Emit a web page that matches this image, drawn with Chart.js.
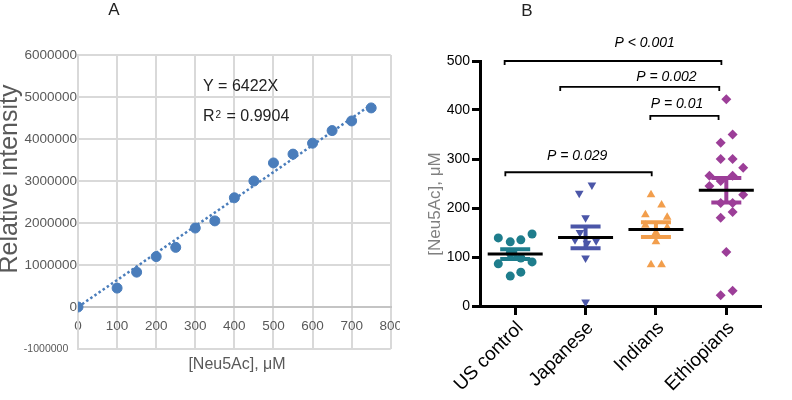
<!DOCTYPE html>
<html>
<head>
<meta charset="utf-8">
<script src="https://cdn.jsdelivr.net/npm/chart.js@4"></script>
<style>
  html, body { margin: 0; padding: 0; background: #fff; overflow: hidden; }
  #boxA { position: absolute; left: 0; top: 0; width: 400px; height: 400px; overflow: hidden; }
  #chartB { position: absolute; left: 420px; top: 0; }
</style>
</head>
<body>
<div id="boxA"><canvas id="chartA" width="413" height="400"></canvas></div>
<canvas id="chartB" width="372" height="430"></canvas>
<script>
  // --- panel A: calibration curve ---
  const concX = [0, 100, 150, 200, 250, 300, 350, 400, 450, 500, 550, 600, 650, 700, 750];
  const intensityY = [0, 450000, 830000, 1200000, 1420000, 1880000, 2050000, 2600000, 3000000,
    3430000, 3640000, 3900000, 4200000, 4430000, 4740000];
  const trendX = [0, 750];
  const trendY = [0, 4816500];

  // --- panel B: Neu5Ac per population ---
  const groups = ['US control', 'Japanese', 'Indians', 'Ethiopians'];
  const usControl = [139, 131, 135, 147, 86, 98, 90, 61, 69, 108];
  const usJitter = [-0.24, -0.07, 0.08, 0.24, -0.24, 0.08, 0.24, -0.07, 0.08, -0.07];
  const japanese = [230, 247, 180, 150, 135, 128, 133, 98, 8];
  const japJitter = [-0.09, 0.09, 0, -0.08, -0.15, 0.02, 0.15, 0, 0];
  const indians = [227, 206, 186, 181, 165, 160, 150, 131, 84, 84];
  const indJitter = [-0.07, 0.08, -0.15, 0.16, -0.15, 0.16, 0, 0, -0.07, 0.08];
  const ethiopians = [422, 350, 333, 300, 300, 282, 266, 266, 245, 255, 227, 210, 210, 192, 180, 110, 22, 31];
  const ethJitter = [0, 0.09, -0.08, -0.08, 0.09, 0.24, -0.24, 0.09, -0.24, -0.08, 0.24, -0.08, 0.09, 0.09, -0.08, 0, -0.08, 0.09];
  const groupMeans = [106, 140, 156, 236];
  const groupSem = [10, 22, 15, 25];

  const pLabels = ['P < 0.001', 'P = 0.002', 'P = 0.01', 'P = 0.029'];
  const pFrom = [-0.15, 0.64, 1.92, -0.14];
  const pTo = [2.93, 2.9, 2.89, 1.94];
  const pLevel = [500, 447, 388, 273];
  const pTextX = [1.84, 2.15, 2.3, 0.88];
  const pTextY = [537, 467, 412, 306];

  const SANS = '"Liberation Sans", Arial, sans-serif';
  const blue = '#4a7dbb';
  const gray = '#595959';

  const textA = {
    id: 'textA',
    afterDraw(chart) {
      const ctx = chart.ctx;
      ctx.save();
      ctx.textBaseline = 'middle';
      ctx.fillStyle = '#222';
      ctx.textAlign = 'center';
      ctx.font = '17px ' + SANS;
      ctx.fillText('A', 114, 10);

      ctx.fillStyle = gray;
      ctx.font = '16px ' + SANS;
      ctx.fillText('[Neu5Ac], μM', 237, 365);

      ctx.save();
      ctx.translate(10, 179);
      ctx.rotate(-Math.PI / 2);
      ctx.font = '25px ' + SANS;
      ctx.fillText('Relative intensity', 0, 0);
      ctx.restore();

      ctx.fillStyle = '#222';
      ctx.textAlign = 'left';
      ctx.font = '16px ' + SANS;
      ctx.fillText('Y = 6422X', 203, 87);
      ctx.fillText('R', 203, 117);
      const rw = ctx.measureText('R').width;
      ctx.font = '10px ' + SANS;
      ctx.fillText('2', 203 + rw + 1, 115);
      const tw = ctx.measureText('2').width;
      ctx.font = '16px ' + SANS;
      ctx.fillText(' = 0.9904', 203 + rw + tw + 2, 117);
      ctx.restore();
    }
  };

  new Chart(document.getElementById('chartA'), {
    type: 'scatter',
    data: {
      datasets: [
        {
          data: concX.map((x, i) => ({ x, y: intensityY[i] })),
          backgroundColor: blue,
          borderColor: blue,
          pointRadius: 5,
          order: 1
        },
        {
          type: 'line',
          data: trendX.map((x, i) => ({ x, y: trendY[i] })),
          borderColor: blue,
          borderWidth: 2.5,
          borderDash: [2.5, 2.5],
          pointRadius: 0,
          fill: false,
          order: 2
        }
      ]
    },
    options: {
      responsive: false,
      animation: false,
      events: [],
      layout: { padding: { top: 55, right: 7, bottom: 51, left: 0 } },
      plugins: { legend: { display: false }, tooltip: { enabled: false } },
      scales: {
        x: {
          type: 'linear',
          position: { y: 0 },
          min: 0,
          max: 800,
          ticks: { stepSize: 100, padding: 11, color: gray, font: { family: SANS, size: 13.5 } },
          grid: { color: '#d9d9d9', lineWidth: 2, drawTicks: false },
          border: { color: '#c4c4c4', width: 2 }
        },
        y: {
          min: -1000000,
          max: 6000000,
          afterFit: s => { s.width = 78; },
          ticks: {
            stepSize: 1000000,
            padding: 1,
            color: gray,
            callback: v => v < 0 ? v + '   ' : String(v),
            font: c => ({ family: SANS, size: c.tick && c.tick.value < 0 ? 10.5 : 13.5 })
          },
          grid: { color: '#d9d9d9', lineWidth: 2, drawTicks: false },
          border: { color: '#d9d9d9', width: 2 }
        }
      }
    },
    plugins: [textA]
  });

  const textB = {
    id: 'textB',
    afterDraw(chart) {
      const { ctx, scales: { x, y } } = chart;
      ctx.save();
      ctx.textBaseline = 'middle';
      ctx.textAlign = 'center';
      ctx.fillStyle = '#222';
      ctx.font = '17px ' + SANS;
      ctx.fillText('B', 107, 11);

      ctx.save();
      ctx.translate(15, 204);
      ctx.rotate(-Math.PI / 2);
      ctx.fillStyle = '#808080';
      ctx.font = '17px ' + SANS;
      ctx.fillText('[Neu5Ac], μM', 0, 0);
      ctx.restore();

      ctx.strokeStyle = '#000';
      ctx.lineWidth = 1.8;
      ctx.fillStyle = '#000';
      ctx.font = 'italic 14px ' + SANS;
      pLabels.forEach((label, i) => {
        const x1 = x.getPixelForValue(pFrom[i]);
        const x2 = x.getPixelForValue(pTo[i]);
        const yy = y.getPixelForValue(pLevel[i]);
        ctx.beginPath();
        ctx.moveTo(x1, yy + 4);
        ctx.lineTo(x1, yy);
        ctx.lineTo(x2, yy);
        ctx.lineTo(x2, yy + 4);
        ctx.stroke();
        ctx.fillText(label, x.getPixelForValue(pTextX[i]), y.getPixelForValue(pTextY[i]));
      });
      ctx.restore();
    }
  };

  const series = [
    { vals: usControl, jit: usJitter, color: '#1e7d8c', style: 'circle', rot: 0, r: 4.5 },
    { vals: japanese, jit: japJitter, color: '#4b56a8', style: 'triangle', rot: 180, r: 5 },
    { vals: indians, jit: indJitter, color: '#f29e4c', style: 'triangle', rot: 0, r: 5 },
    { vals: ethiopians, jit: ethJitter, color: '#9c3e98', style: 'rectRot', rot: 0, r: 5 }
  ];

  const pointSets = series.map((s, g) => ({
    data: s.vals.map((v, i) => ({ x: g + s.jit[i], y: v })),
    backgroundColor: s.color,
    borderColor: s.color,
    pointStyle: s.style,
    rotation: s.rot,
    pointRadius: s.r,
    borderWidth: 0,
    order: 3
  }));

  const semLines = series.map((s, g) => ({
    type: 'line',
    data: [{ x: g, y: groupMeans[g] - groupSem[g] }, { x: g, y: groupMeans[g] + groupSem[g] }],
    borderColor: s.color,
    borderWidth: 4,
    pointRadius: 0,
    fill: false,
    order: 2
  }));

  const semCaps = {
    data: groups.flatMap((g, i) => [
      { x: i, y: groupMeans[i] - groupSem[i] },
      { x: i, y: groupMeans[i] + groupSem[i] }
    ]),
    pointStyle: 'line',
    pointRadius: 15,
    borderWidth: 4,
    borderColor: series.flatMap(s => [s.color, s.color]),
    order: 2
  };

  const meanLines = {
    data: groups.map((g, i) => ({ x: i, y: groupMeans[i] })),
    pointStyle: 'line',
    pointRadius: 27.5,
    borderWidth: 3,
    borderColor: '#000',
    order: 1
  };

  new Chart(document.getElementById('chartB'), {
    type: 'scatter',
    data: { datasets: [...pointSets, ...semLines, semCaps, meanLines] },
    options: {
      responsive: false,
      animation: false,
      events: [],
      layout: { padding: { top: 61, right: 2, bottom: 0, left: 0 } },
      plugins: { legend: { display: false }, tooltip: { enabled: false } },
      scales: {
        x: {
          type: 'linear',
          min: -0.5,
          max: 3.5,
          afterBuildTicks: s => { s.ticks = groups.map((g, i) => ({ value: i })); },
          afterFit: s => { s.height = 124; },
          ticks: {
            autoSkip: false,
            minRotation: 45,
            maxRotation: 45,
            padding: 2,
            labelOffset: 5,
            color: '#000',
            font: { family: SANS, size: 19 },
            callback: (v, i) => groups[i]
          },
          grid: { drawOnChartArea: false, tickLength: 9, tickWidth: 3, tickColor: '#000' },
          border: { color: '#000', width: 3 }
        },
        y: {
          min: 0,
          max: 500,
          afterFit: s => { s.width = 60; },
          ticks: { stepSize: 100, padding: 2, color: '#000', font: { family: SANS, size: 14 } },
          grid: { drawOnChartArea: false, tickLength: 8, tickWidth: 3, tickColor: '#000' },
          border: { color: '#000', width: 3 }
        }
      }
    },
    plugins: [textB]
  });
</script>
</body>
</html>
